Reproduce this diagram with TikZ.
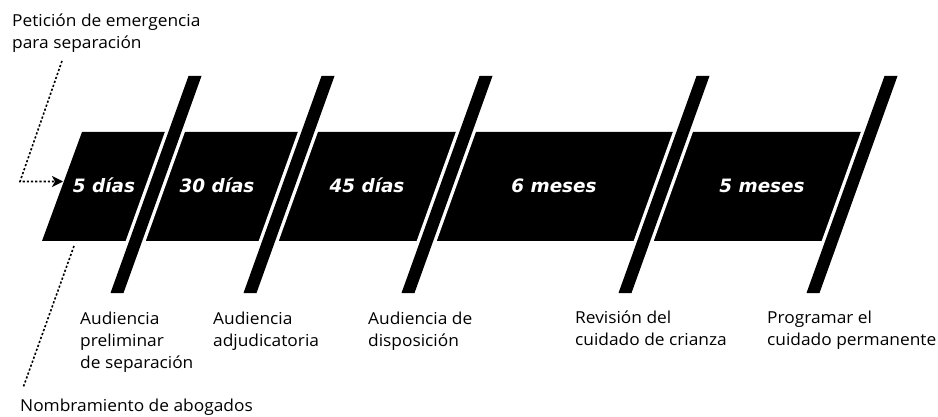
\documentclass[tikz,border=0pt]{standalone}
\usepackage{fontspec}
\usepackage{tikz}
\usetikzlibrary{arrows.meta}
\setmainfont{Open Sans}[FakeStretch=1.05]
\newfontfamily\bandfont{DejaVu Sans}
\newcommand\myslant{78}

\tikzset{
  etapa/.style={text=white, anchor=base, inner sep=0pt,
    font=\bandfont\bfseries\itshape\fontsize{18.4}{22}\selectfont},
  rotulo/.style={anchor=base west, align=left, inner sep=0pt,
    font=\fontsize{16.5}{22}\selectfont},
  guia/.style={line width=1.6pt, dash pattern=on 2.2pt off 2pt},
}

\begin{document}
\begin{tikzpicture}[x=1pt,y=-1pt]
			\useasboundingbox (0,0) rectangle (938,417);
			\fill (82,132) -- (868,132) -- (829,241) -- (42,241) -- cycle;
			\foreach \x in {195,328,486,703,891}{
				\fill[white] (\x-10,76) -- (\x+10,76) -- (\x+10-\myslant,293) -- (\x-10-\myslant,293) -- cycle;
				\fill (\x-6.5,76) -- (\x+6.5,76) -- (\x+6.5-\myslant,293) -- (\x-6.5-\myslant,293) -- cycle;
			}
			\node[etapa] (dias5)  at (104,193) {5 días};
			\node[etapa] (dias30) at (217,193) {30 días};
			\node[etapa] (dias45) at (367,193) {45 días};
			\node[etapa] (meses6) at (554,193) {6 meses};
			\node[etapa] (meses5) at (762,193) {5 meses};
			\node[rotulo] (peticion)    at (12,49)   {Petición de emergencia\\para separación};
			\node[rotulo] (preliminar)  at (80,368)  {Audiencia\\preliminar\\de separación};
			\node[rotulo] (adjudica)    at (213,346) {Audiencia\\adjudicatoria};
			\node[rotulo] (disposicion) at (368,346) {Audiencia de\\disposición};
			\node[rotulo] (revision)    at (575,345) {Revisión del\\cuidado de crianza};
			\node[rotulo] (programar)   at (767,345) {Programar el\\cuidado permanente};
			\node[rotulo] (abogados)    at (20,411)  {Nombramiento de abogados};
			\coordinate (peticion-pie) at (62,61);
			\coordinate (codo) at (20,181.5);
			\coordinate (entrada) at (63,181.5);
			\coordinate (banda-pie) at (74,246);
			\coordinate (abogados-cima) at (23,388);
			\draw[guia, -{Stealth[length=11pt,width=11pt,inset=3pt]}] (peticion-pie) -- (codo) -- (entrada);
			\draw[guia] (banda-pie) -- (abogados-cima);
		\end{tikzpicture}
\end{document}
